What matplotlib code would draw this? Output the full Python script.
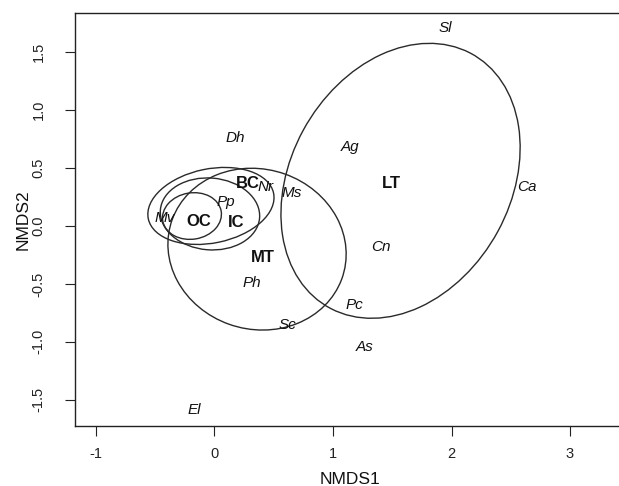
import matplotlib
matplotlib.use("Agg")
import matplotlib.pyplot as plt
from matplotlib.patches import Ellipse

plt.rcParams['font.family'] = ['Liberation Sans', 'DejaVu Sans']

# species scores (labels)
species = ["Sl", "Dh", "Ag", "Ca", "Nr", "Ms", "Pp", "Mv", "Cn", "Ph", "Sc", "Pc", "As", "El"]
sp_x = [1.945, 0.173, 1.143, 2.637, 0.435, 0.654, 0.097, -0.418, 1.405, 0.316, 0.612, 1.177, 1.27, -0.17]
sp_y = [1.71, 0.76, 0.68, 0.337, 0.337, 0.285, 0.207, 0.069, -0.181, -0.492, -0.855, -0.682, -1.045, -1.589]

# group labels
groups = ["LT", "BC", "OC", "IC", "MT"]
grp_x = [1.489, 0.283, -0.131, 0.181, 0.409]
grp_y = [0.363, 0.371, 0.043, 0.026, -0.276]

# group dispersion ellipses: centre, full width, full height, angle (deg)
ell_names = ["LT", "MT", "OC", "BC", "IC"]
ell_cx = [1.57, 0.359, -0.19, -0.03, -0.038]
ell_cy = [0.39, -0.20, 0.086, 0.173, 0.104]
ell_w = [2.5, 1.52, 0.50, 1.08, 0.84]
ell_h = [1.86, 1.38, 0.40, 0.64, 0.62]
ell_ang = [62, -20, 10, 12, -5]

xticks = [-1, 0, 1, 2, 3]
yticks = [-1.5, -1.0, -0.5, 0.0, 0.5, 1.0, 1.5]

fig = plt.figure(figsize=(6.19, 4.86), dpi=100)
ax = fig.add_axes([75/619, 60/486, 550/619, 413/486])
ax.set_xlim(-1.177, 3.464)
ax.set_ylim(-1.727, 1.839)

for cx, cy, w, h, a in zip(ell_cx, ell_cy, ell_w, ell_h, ell_ang):
    ax.add_patch(Ellipse((cx, cy), w, h, angle=a, fill=False, edgecolor='#2a2a2a', lw=1.0))

for s, x, y in zip(species, sp_x, sp_y):
    ax.text(x, y, s, fontsize=11, fontstyle='italic', ha='center', va='center', color='#111111')
for g, x, y in zip(groups, grp_x, grp_y):
    ax.text(x, y, g, fontsize=12, fontweight='bold', ha='center', va='center', color='#111111')

ax.set_xticks(xticks)
ax.set_xticklabels([f"{t:g}" for t in xticks])
ax.set_yticks(yticks)
ax.set_yticklabels([f"{t:.1f}" for t in yticks], rotation=90, va='center')
ax.tick_params(axis='both', direction='out', length=7, width=0.8, labelsize=10.5, colors='#222222')
ax.tick_params(axis='x', pad=8)
ax.tick_params(axis='y', pad=14)
for sp in ax.spines.values():
    sp.set_linewidth(1.0)
    sp.set_color('#222222')
ax.set_xlabel("NMDS1", fontsize=12.5, labelpad=8, color='#111111')
ax.set_ylabel("NMDS2", fontsize=12.5, labelpad=1, color='#111111')

fig.savefig("out.png", dpi=100)
